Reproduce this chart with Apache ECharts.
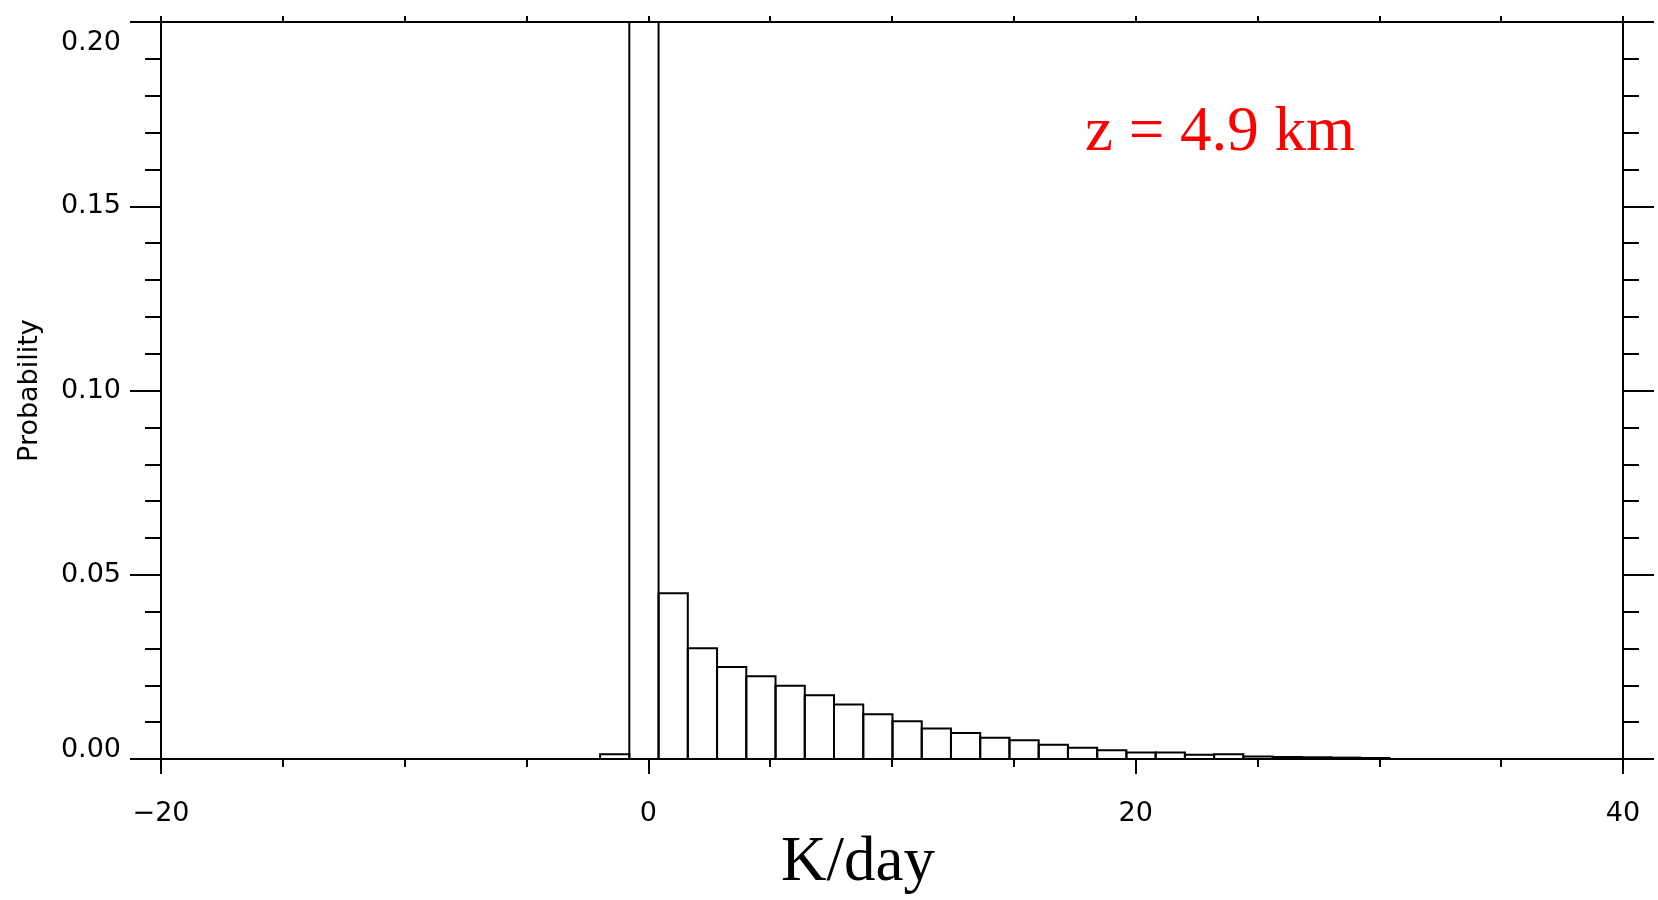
<!DOCTYPE html>
<html>
<head>
<meta charset="utf-8">
<style>
  html, body { margin: 0; padding: 0; background: #fff; }
  #chart { width: 1658px; height: 900px; }
</style>
<script src="https://cdn.jsdelivr.net/npm/echarts@6/dist/echarts.min.js"></script>
</head>
<body>
<div id="chart"></div>
<script>
// histogram bins (K/day), lower edge of each bin
var binStart = [-1.98, -0.78, 0.42, 1.62, 2.82, 4.02, 5.22, 6.42, 7.62, 8.82,
  10.02, 11.22, 12.42, 13.62, 14.82, 16.02, 17.22, 18.42, 19.62, 20.82,
  22.02, 23.22, 24.42, 25.62, 26.82, 28.02, 29.22];
var binWidth = 1.2;
// probability of each bin (the bin at 0 goes off the top of the plot)
var probability = [0.0013, 0.72, 0.0450, 0.0301, 0.0250, 0.0225, 0.0199, 0.0173, 0.0148, 0.0122,
  0.0103, 0.0083, 0.0071, 0.0058, 0.0051, 0.0039, 0.0031, 0.0024, 0.0018, 0.0018,
  0.0012, 0.0013, 0.0007, 0.0006, 0.0005, 0.0004, 0.0003];
var xTicks = [-20, 0, 20, 40];
var yTicks = [0.00, 0.05, 0.10, 0.15, 0.20];
var levelLabel = 'z = 4.9 km';

var histData = [];
for (var i = 0; i < binStart.length; i++) {
  histData.push([binStart[i], binStart[i] + binWidth, probability[i]]);
}

var labelFont = { color: '#000', fontFamily: 'DejaVu Sans', fontSize: 27 };
var lineStyle = { color: '#000', width: 2 };

var chart = echarts.init(document.getElementById('chart'));
var option = {
  animation: false,
  backgroundColor: '#fff',
  grid: { left: 161, right: 35, top: 22, bottom: 133 },
  xAxis: [
    {
      type: 'value',
      position: 'bottom',
      min: xTicks[0],
      max: xTicks[xTicks.length - 1],
      interval: 20,
      name: 'K/day',
      nameLocation: 'middle',
      nameGap: 68,
      nameTextStyle: { color: '#000', fontFamily: 'Liberation Serif', fontSize: 63, padding: [0, 68, 0, 0] },
      axisLine: { onZero: false, lineStyle: lineStyle },
      axisTick: { length: 15, lineStyle: lineStyle },
      minorTick: { show: true, splitNumber: 4, length: 8, lineStyle: lineStyle },
      splitLine: { show: false },
      axisLabel: Object.assign({
        margin: 41,
        formatter: function (v) { return v < 0 ? '\u2212' + Math.abs(v) : String(v); }
      }, labelFont)
    },
    {
      type: 'value',
      position: 'top',
      min: xTicks[0],
      max: xTicks[xTicks.length - 1],
      interval: 20,
      axisLine: { onZero: false, lineStyle: lineStyle },
      axisTick: { length: 6, lineStyle: lineStyle },
      minorTick: { show: true, splitNumber: 4, length: 6, lineStyle: lineStyle },
      splitLine: { show: false },
      axisLabel: { show: false }
    }
  ],
  yAxis: [
    {
      type: 'value',
      position: 'left',
      min: yTicks[0],
      max: yTicks[yTicks.length - 1],
      interval: 0.05,
      name: 'Probability',
      nameLocation: 'middle',
      nameRotate: 90,
      nameGap: 118,
      nameTextStyle: { color: '#000', fontFamily: 'DejaVu Sans', fontSize: 27 },
      axisLine: { onZero: false, lineStyle: lineStyle },
      axisTick: { length: 31, lineStyle: lineStyle },
      minorTick: { show: true, splitNumber: 5, length: 16, lineStyle: lineStyle },
      splitLine: { show: false },
      axisLabel: Object.assign({
        margin: 40,
        formatter: function (v) {
          var s = v.toFixed(2);
          if (v >= 0.2) return '{top|' + s + '}';
          if (v <= 0) return '{bot|' + s + '}';
          return s;
        },
        rich: {
          top: { color: '#000', fontFamily: 'DejaVu Sans', fontSize: 27, padding: [42, 0, 0, 0] },
          bot: { color: '#000', fontFamily: 'DejaVu Sans', fontSize: 27, padding: [0, 0, 18, 0] }
        }
      }, labelFont)
    },
    {
      type: 'value',
      position: 'right',
      min: yTicks[0],
      max: yTicks[yTicks.length - 1],
      interval: 0.05,
      axisLine: { onZero: false, lineStyle: lineStyle },
      axisTick: { length: 31, lineStyle: lineStyle },
      minorTick: { show: true, splitNumber: 5, length: 16, lineStyle: lineStyle },
      splitLine: { show: false },
      axisLabel: { show: false }
    }
  ],
  graphic: [
    {
      type: 'text',
      left: 1085,
      top: 102,
      style: { text: levelLabel, fill: '#ff0000', font: '63px "Liberation Serif"' }
    }
  ],
  series: [
    {
      type: 'custom',
      xAxisIndex: 0,
      yAxisIndex: 0,
      clip: true,
      data: histData,
      renderItem: function (params, api) {
        var lo = api.coord([api.value(0), 0]);
        var hi = api.coord([api.value(1), api.value(2)]);
        var top = Math.max(hi[1], params.coordSys.y);
        return {
          type: 'rect',
          shape: { x: lo[0], y: top, width: hi[0] - lo[0], height: lo[1] - top },
          style: { fill: 'transparent', stroke: '#000', lineWidth: 2 }
        };
      }
    }
  ]
};
chart.setOption(option);
window.addEventListener('resize', function () {
  chart.resize();
});
</script>
</body>
</html>
